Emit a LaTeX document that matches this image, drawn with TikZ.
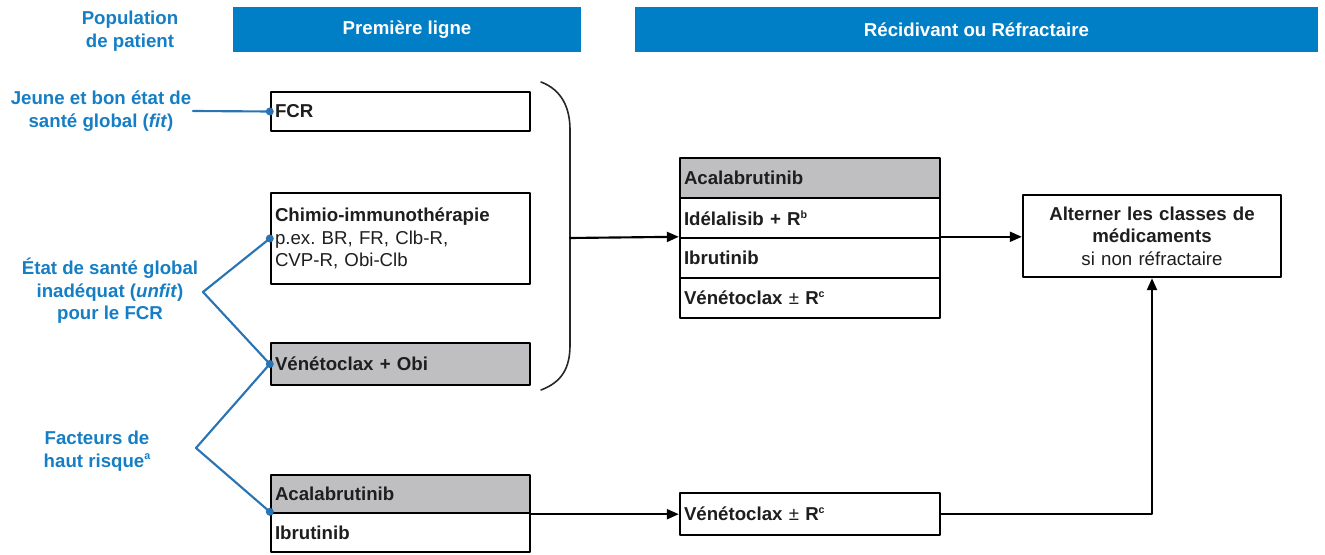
\documentclass[tikz,border=0pt]{standalone}
\usepackage{fontspec}
\setmainfont{Liberation Sans}
\usetikzlibrary{arrows.meta}
\frenchspacing
\definecolor{hdrblue}{RGB}{0,126,198}
\definecolor{lblblue}{RGB}{22,126,196}
\definecolor{linkblue}{RGB}{42,116,180}
\definecolor{boxgray}{RGB}{191,191,193}
\definecolor{boxtext}{RGB}{30,30,30}
\newcommand\diagfont{\fontsize{14}{16.8}\selectfont}
\newcommand\supmark[1]{\raisebox{0.75ex}{\fontsize{8}{8}\selectfont#1}}
\tikzset{
  hdr/.style={fill=hdrblue,text=white,font=\bfseries\diagfont,minimum height=33.75pt,inner sep=0pt},
  lbl/.style={text=lblblue,font=\bfseries\diagfont,align=center,inner sep=1pt},
  tbox/.style={draw,line width=1.8pt,fill=white,text=boxtext,font=\bfseries\diagfont,
    inner xsep=3pt,inner ysep=0pt,text width=188.25pt,align=left},
  sbox/.style={tbox,text width=189pt,minimum height=30pt},
  gbox/.style={fill=boxgray},
  link/.style={draw=linkblue,line width=1.6pt},
  dot/.style={fill=linkblue},
  arrow/.style={line width=1.6pt,-{Triangle[length=9pt,width=7.5pt]}},
  brace/.style={line width=1.2pt,draw=black!85}
}
\begin{document}
\begin{tikzpicture}[x=0.75pt,y=-0.75pt,line cap=round,line join=round]
\useasboundingbox (0,0) rectangle (1325,555);
% en-tetes
\node[hdr,minimum width=261pt] (first) at (407,29.5) {Première ligne};
\node[hdr,minimum width=512.25pt] (relapse) at (976.5,29.5) {Récidivant ou Réfractaire};
\node[lbl] (pop) at (130,31) {Population\\de patient};

% populations de patients
\node[lbl] (fit) at (101,111) {Jeune et bon état de\\santé global (\textit{fit})};
\node[lbl] (unfit) at (110,291) {État de santé global\\inadéquat (\textit{unfit})\\pour le FCR};
\node[lbl] (risk) at (97,451) {Facteurs de\\haut risque\supmark{a}};

% premiere ligne
\node[tbox,minimum height=29.25pt] (fcr) at (400.5,111.5) {FCR};
\node[tbox,minimum height=68.25pt] (chemo) at (400.5,238.5)
  {Chimio-immunothérapie\\{\mdseries p.ex. BR, FR, Clb-R,}\\{\mdseries CVP-R, Obi-Clb}};
\node[tbox,gbox,minimum height=31.5pt] (venobi) at (400.5,364) {Vénétoclax + Obi};
\node[tbox,gbox,minimum height=28.5pt] (acala) at (400.5,494) {Acalabrutinib};
\node[tbox,minimum height=29.25pt] (ibru) at (400.5,532.5) {Ibrutinib};

% recidivant ou refractaire
\node[sbox,gbox] (acalarr) at (810,178) {Acalabrutinib};
\node[sbox] (idela) at (810,218) {Idélalisib + R\supmark{b}};
\node[sbox] (ibrurr) at (810,258) {Ibrutinib};
\node[sbox] (venrr) at (810,298) {Vénétoclax \textmd{±} R\supmark{c}};
\node[sbox,minimum height=31.5pt] (venr) at (810,514) {Vénétoclax \textmd{±} R\supmark{c}};
\node[tbox,text width=187.5pt,align=center,minimum height=61.5pt] (switch) at (1152,236)
  {Alterner les classes de\\médicaments\\{\mdseries si non réfractaire}};

% liens bleus
\coordinate (unfitv) at (203,292);
\coordinate (riskv) at (196,448);
\draw[link] (fit.east) -- (fcr.west);
\draw[link] (chemo.west) -- (unfitv) -- (venobi.west);
\draw[link] (venobi.west) -- (riskv) -- (ibru.north west);
\fill[dot] (fcr.west) circle (3pt);
\fill[dot] (chemo.west) circle (3pt);
\fill[dot] (venobi.west) circle (3pt);
\fill[dot] (ibru.north west) circle (3pt);

% accolade et fleches
\draw[brace] (541,82) .. controls (562,90) and (570,108) .. (570,130) -- (570,345)
  .. controls (570,368) and (562,382) .. (541,390);
\coordinate (bracemid) at (570,238);
\draw[arrow] (bracemid) -- (ibrurr.north west);
\draw[arrow] (ibrurr.north east) -- (switch.west |- ibrurr.north east);
\draw[arrow] (acala.south east) -- (acala.south east -| venr.west);
\draw[arrow] (venr.east |- acala.south east) -| (switch.south);
\end{tikzpicture}
\end{document}
